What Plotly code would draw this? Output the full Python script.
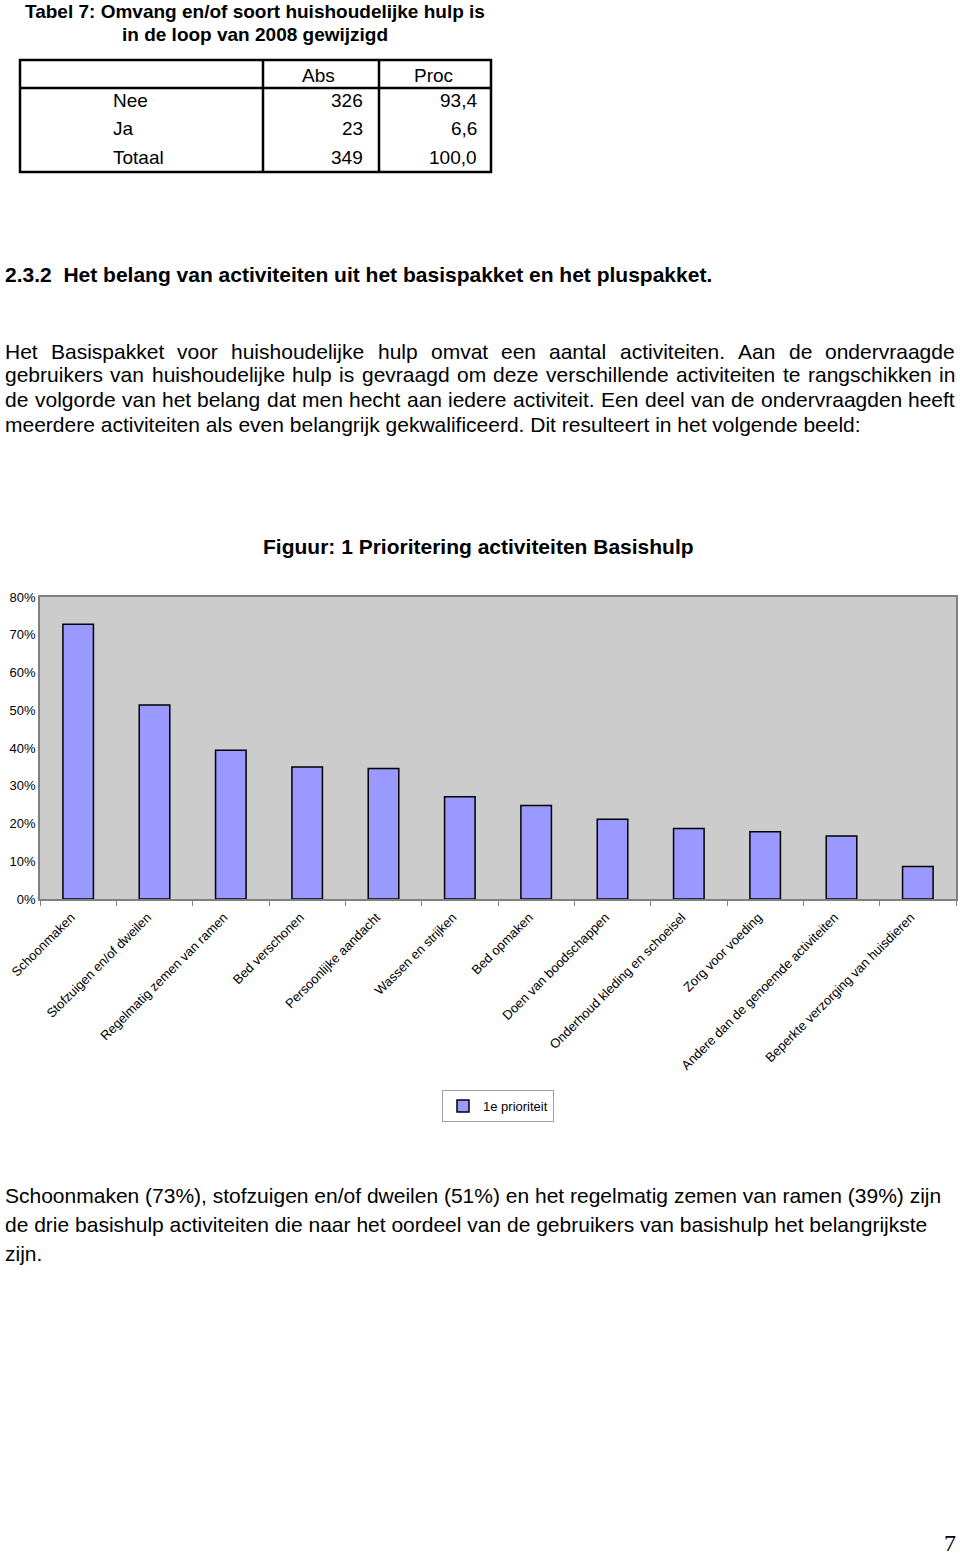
import plotly.graph_objects as go

# ---------------- data ----------------
categories = [
    "Schoonmaken", "Stofzuigen en/of dweilen", "Regelmatig zemen van ramen",
    "Bed verschonen", "Persoonlijke aandacht", "Wassen en strijken",
    "Bed opmaken", "Doen van boodschappen", "Onderhoud kleding en schoeisel",
    "Zorg voor voeding", "Andere dan de genoemde activiteiten",
    "Beperkte verzorging van huisdieren",
]
values = [0.728, 0.514, 0.394, 0.350, 0.346, 0.271, 0.248, 0.211, 0.187, 0.178, 0.167, 0.086]
series_name = "1e prioriteit"
y_ticks = [0, 0.1, 0.2, 0.3, 0.4, 0.5, 0.6, 0.7, 0.8]

table_cols = ["Abs", "Proc"]
table_rows = ["Nee", "Ja", "Totaal"]
table_abs = ["326", "23", "349"]
table_proc = ["93,4", "6,6", "100,0"]

W, H = 960, 1557
FONT = "Liberation Sans, Arial, Helvetica, sans-serif"


def px(x):
    return x / W


def py(y):
    return 1 - y / H


# Arial / Liberation Sans advance widths (1/1000 em)
_w = {' ': 278, '.': 278, ',': 278, ':': 278, '(': 333, ')': 333, '%': 889, '/': 278, '-': 333}
for c, v in zip("abcdefghijklmnopqrstuvwxyz",
                [556, 556, 500, 556, 556, 278, 556, 556, 222, 222, 500, 222, 833, 556, 556, 556, 556,
                 333, 500, 278, 556, 500, 722, 500, 500, 500]):
    _w[c] = v
for c, v in zip("ABCDEFGHIJKLMNOPQRSTUVWXYZ",
                [667, 667, 722, 722, 667, 611, 778, 722, 278, 500, 667, 556, 833, 722, 778, 667, 778,
                 722, 667, 611, 722, 667, 944, 667, 667, 611]):
    _w[c] = v
for c in "0123456789":
    _w[c] = 556


def text_width(s, fs):
    return sum(_w.get(ch, 556) for ch in s) * fs / 1000.0


fig = go.Figure()
fig.add_trace(go.Bar(
    x=categories, y=values, name=series_name,
    marker=dict(color="#9999FF", line=dict(color="#000000", width=1.5)),
    showlegend=True,
))

annotations = []


def add_text(x, y, s, size, bold=False, xanchor="left", family=FONT):
    t = "<b>%s</b>" % s if bold else s
    annotations.append(dict(
        x=px(x), y=py(y), xref="paper", yref="paper", text=t, showarrow=False,
        xanchor=xanchor, yanchor="middle", borderpad=0,
        font=dict(family=family, size=size, color="#000000"),
    ))


# --- table title ---
add_text(255, 12, "Tabel 7: Omvang en/of soort huishoudelijke hulp is", 19, True, "center")
add_text(255, 34, "in de loop van 2008 gewijzigd", 19, True, "center")

# --- table ---
shapes = []
lc = "#000000"
shapes.append(dict(type="rect", xref="paper", yref="paper", x0=px(20), x1=px(491), y0=py(60), y1=py(172),
                   line=dict(color=lc, width=2.5)))
shapes.append(dict(type="line", xref="paper", yref="paper", x0=px(20), x1=px(491), y0=py(88), y1=py(88),
                   line=dict(color=lc, width=2.5)))
for xv in (263, 379):
    shapes.append(dict(type="line", xref="paper", yref="paper", x0=px(xv), x1=px(xv), y0=py(60), y1=py(172),
                       line=dict(color=lc, width=2.5)))

add_text(318, 76, table_cols[0], 19, False, "center")
add_text(433, 76, table_cols[1], 19, False, "center")
row_y = [101, 129, 157]
for yy, lab, a, p in zip(row_y, table_rows, table_abs, table_proc):
    add_text(112, yy, lab, 19, False, "left")
    add_text(364, yy, a, 19, False, "right")
    add_text(478, yy, p, 19, False, "right")

# --- heading ---
add_text(4, 274, "2.3.2\u00a0 Het belang van activiteiten uit het basispakket en het pluspakket.", 21, True, "left")

# --- justified paragraph ---
para = [
    "Het Basispakket voor huishoudelijke hulp omvat een aantal activiteiten. Aan de ondervraagde",
    "gebruikers van huishoudelijke hulp is gevraagd om deze verschillende activiteiten te rangschikken in",
    "de volgorde van het belang dat men hecht aan iedere activiteit. Een deel van de ondervraagden heeft",
    "meerdere activiteiten als even belangrijk gekwalificeerd. Dit resulteert in het volgende beeld:",
]
para_y = [351, 375, 399, 424]
FS = 21
LEFT, RIGHT = 4, 954
for i, (line, yy) in enumerate(zip(para, para_y)):
    if i == len(para) - 1:
        add_text(LEFT, yy, line, FS)
        continue
    words = line.split(" ")
    widths = [text_width(wd, FS) for wd in words]
    gap = (RIGHT - LEFT - sum(widths)) / (len(words) - 1)
    xcur = LEFT
    for wd, wdt in zip(words, widths):
        add_text(xcur, yy, wd, FS)
        xcur += wdt + gap

# --- chart title ---
add_text(478, 546, "Figuur: 1 Prioritering activiteiten Basishulp", 21, True, "center")

# --- bottom paragraph ---
bottom = [
    "Schoonmaken (73%), stofzuigen en/of dweilen (51%) en het regelmatig zemen van ramen (39%) zijn",
    "de drie basishulp activiteiten die naar het oordeel van de gebruikers van basishulp het belangrijkste",
    "zijn.",
]
for line, yy in zip(bottom, [1195, 1224, 1253]):
    add_text(4, yy, line, 21)

# --- page number ---
add_text(950, 1543, "7", 24, False, "center", family="Liberation Serif, Times New Roman, serif")

fig.update_layout(
    width=W, height=H, autosize=False,
    margin=dict(l=0, r=0, t=0, b=0, pad=0, autoexpand=False),
    paper_bgcolor="#FFFFFF",
    plot_bgcolor="#CCCCCC",
    bargap=0.6,
    font=dict(family=FONT, size=13, color="#000000"),
    xaxis=dict(
        domain=[px(40), px(956)], type="category", automargin=False,
        showline=True, linecolor="#808080", linewidth=1.5, mirror=True,
        ticks="outside", tickson="boundaries", ticklen=5, tickcolor="#808080",
        tickangle=-45, tickfont=dict(family=FONT, size=13, color="#000000"),
        ticklabelshift=-7, ticklabelstandoff=4,
        showgrid=False,
    ),
    yaxis=dict(
        domain=[py(899), py(597)], range=[0, 0.8], automargin=False,
        tickvals=y_ticks, tickformat=".0%",
        showline=True, linecolor="#808080", linewidth=1.5, mirror=True,
        ticks="", showgrid=False, zeroline=False,
        tickfont=dict(family=FONT, size=13, color="#000000"),
    ),
    legend=dict(
        x=px(442), y=py(1090), xanchor="left", yanchor="top",
        bordercolor="#A0A0A0", borderwidth=1, bgcolor="#FFFFFF",
        font=dict(family=FONT, size=13, color="#000000"),
        itemwidth=30, tracegroupgap=0,
    ),
    shapes=shapes,
    annotations=annotations,
)

fig.write_html(
    "out.html",
    config={"displayModeBar": False},
    post_script="document.body.style.margin='0px';document.body.style.padding='0px';",
)
